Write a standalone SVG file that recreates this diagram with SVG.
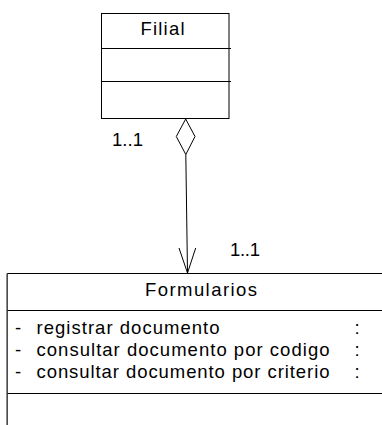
<svg xmlns="http://www.w3.org/2000/svg" width="382" height="425" viewBox="0 0 382 425">
<style>
  .box { fill: #ffffff; stroke: #000000; stroke-width: 1; }
  .ln { stroke: #000000; stroke-width: 1; fill: none; }
  .t { font-family: "Liberation Sans", Arial, sans-serif; font-size: 18.5px; fill: #000000; }
</style>
<rect x="0" y="0" width="382" height="425" fill="#ffffff"/>
<g id="connectors">
  <polygon class="ln" points="185.7,119 195,136.5 185.8,154.5 176.3,136.5" fill="#ffffff"/>
  <line class="ln" x1="185.8" y1="154.5" x2="187.5" y2="273"/>
  <polyline class="ln" points="179,248 187.5,273 195.7,248"/>
  <text class="t" x="112" y="145.5" textLength="31" lengthAdjust="spacing">1..1</text>
  <text class="t" x="230" y="255.5" textLength="30" lengthAdjust="spacing">1..1</text>
</g>
<g id="filial">
  <rect class="box" x="101.5" y="13.5" width="127.5" height="105"/>
  <line class="ln" x1="101.5" y1="48.5" x2="231" y2="48.5"/>
  <line class="ln" x1="101.5" y1="81.5" x2="231" y2="81.5"/>
  <text class="t" x="140.5" y="35" textLength="44" lengthAdjust="spacing">Filial</text>
</g>
<g id="formularios">
  <rect class="box" x="7.5" y="273.5" width="380" height="160"/>
  <line x1="7" y1="273.5" x2="7" y2="425" stroke="#666666" stroke-width="1.5"/>
  <line class="ln" x1="7.5" y1="310.5" x2="382" y2="310.5"/>
  <line class="ln" x1="7.5" y1="393.5" x2="382" y2="393.5"/>
  <text class="t" x="145" y="295.5" textLength="112" lengthAdjust="spacing">Formularios</text>
  <text class="t" x="15" y="333.5">-</text>
  <text class="t" x="36.5" y="333.5" textLength="183" lengthAdjust="spacing">registrar documento</text>
  <text class="t" x="354.5" y="333.5">:</text>
  <text class="t" x="15" y="355.5">-</text>
  <text class="t" x="36.5" y="355.5" textLength="293" lengthAdjust="spacing">consultar documento por codigo</text>
  <text class="t" x="354.5" y="355.5">:</text>
  <text class="t" x="15" y="377.5">-</text>
  <text class="t" x="36.5" y="377.5" textLength="293" lengthAdjust="spacing">consultar documento por criterio</text>
  <text class="t" x="354.5" y="377.5">:</text>
</g>
</svg>
